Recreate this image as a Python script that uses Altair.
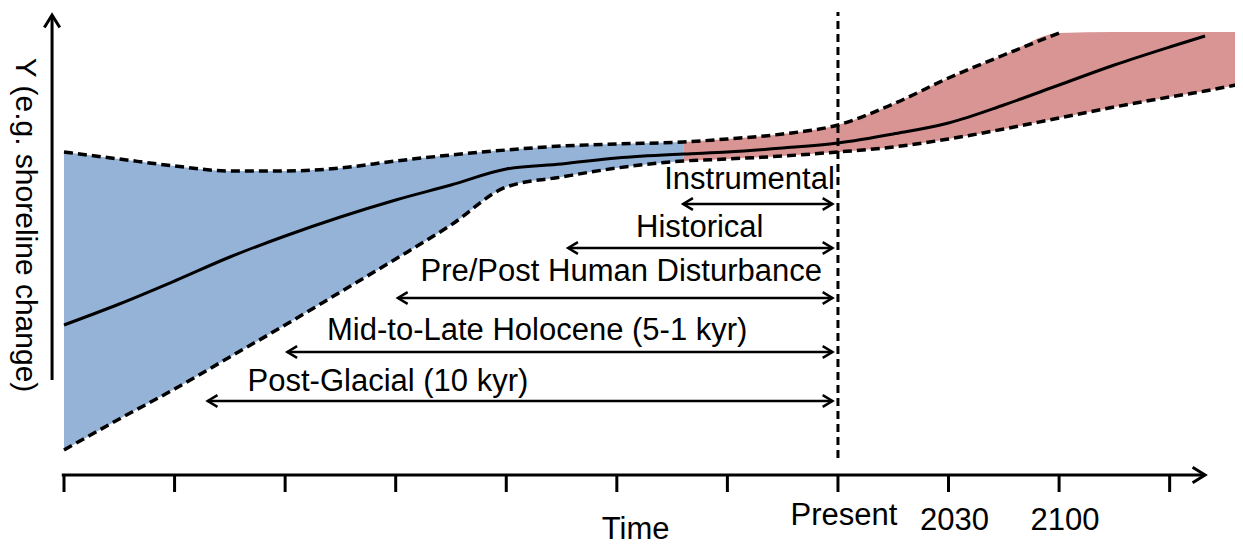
import altair as alt
import pandas as pd

# ---------------- data ----------------
# time axis in tick units (0..10), 7 = Present
blue_x = [0, 0.5, 1, 1.5, 2, 2.5, 3, 3.5, 4, 4.5, 5, 5.6]
blue_lower = [2.5, 5.6, 8.6, 11.8, 15.0, 18.3, 21.6, 25.0, 28.8, 29.8, 30.7, 31.4]
blue_upper = [32.3, 31.6, 30.9, 30.4, 30.4, 30.7, 31.4, 32.0, 32.5, 32.9, 33.1, 33.3]
blue_mid = [15.0, 17.1, 19.4, 21.8, 23.9, 25.8, 27.5, 29.0, 30.6, 31.1, 31.7, 32.1]

red_x = [5.6, 6.0, 6.5, 7.0, 7.5, 8.0, 8.5, 9.0, 9.5, 10.0, 10.32, 10.6]
red_lower = [31.4, 31.6, 31.9, 32.3, 32.8, 33.6, 34.6, 35.7, 36.8, 37.8, 38.4, 39.0]
red_upper = [33.3, 33.6, 34.1, 35.0, 37.1, 39.7, 42.0, 44.2, 44.3, 44.3, 44.3, 44.3]
red_mid = [32.1, 32.3, 32.7, 33.2, 34.1, 35.2, 37.0, 39.0, 41.0, 42.8, 43.9]
red_upper_dash_end = 9.0

present_x = 7.0
tick_values = [0, 1, 2, 3, 4, 5, 6, 7, 8, 9, 10]
axis_end = 10.32
tick_label_x = [7, 8, 9]
tick_labels = ["Present", "2030", "2100"]

periods = ["Instrumental", "Historical", "Pre/Post Human Disturbance",
           "Mid-to-Late Holocene (5-1 kyr)", "Post-Glacial (10 kyr)"]
period_start = [5.6, 4.56, 3.02, 2.02, 1.3]
period_end = [6.95, 6.95, 6.95, 6.95, 6.95]
period_y = [27.1, 22.7, 17.7, 12.3, 7.4]
period_label_x = [6.2, 5.75, 5.04, 4.28, 2.93]
period_label_y = [29.5, 24.7, 20.3, 14.4, 9.3]

y_axis_x = -0.108
y_axis_bottom = 9.5
y_axis_top = 46.0

# ---------------- scales ----------------
XS = alt.Scale(domain=[-0.5065, 10.591], nice=False, zero=False)
YS = alt.Scale(domain=[-7.3, 46.7], nice=False, zero=False)
FONT = "Liberation Sans"
FS = 31


def X(f="x"):
    return alt.X(f"{f}:Q", scale=XS, axis=None)


def Y(f="y"):
    return alt.Y(f"{f}:Q", scale=YS, axis=None)


blue_df = pd.DataFrame({"x": blue_x, "lo": blue_lower, "hi": blue_upper})
red_df = pd.DataFrame({"x": red_x, "lo": red_lower, "hi": red_upper})

blue_area = alt.Chart(blue_df).mark_area(
    color="#94B3D7", opacity=1, interpolate="monotone").encode(
    x=X(), y=Y("lo"), y2="hi:Q")
red_area = alt.Chart(red_df).mark_area(
    color="#D99594", opacity=1, interpolate="monotone").encode(
    x=X(), y=Y("lo"), y2="hi:Q")

# dashed envelopes
up_x = blue_x + [v for v in red_x[1:] if v <= red_upper_dash_end]
up_y = blue_upper + [u for v, u in zip(red_x[1:], red_upper[1:]) if v <= red_upper_dash_end]
lo_x = blue_x + red_x[1:]
lo_y = blue_lower + red_lower[1:]
dash_df = pd.DataFrame({
    "x": up_x + lo_x,
    "y": up_y + lo_y,
    "s": ["upper"] * len(up_x) + ["lower"] * len(lo_x),
})
dash_lines = alt.Chart(dash_df).mark_line(
    color="black", strokeWidth=3.5, strokeDash=[9, 5], interpolate="monotone").encode(
    x=X(), y=Y(), detail="s:N", order="x:Q")

mid_df = pd.DataFrame({"x": blue_x + red_x[1:len(red_mid)],
                       "y": blue_mid + red_mid[1:]})
mid_line = alt.Chart(mid_df).mark_line(
    color="black", strokeWidth=3, interpolate="monotone").encode(
    x=X(), y=Y(), order="x:Q")

present_df = pd.DataFrame({"x": [present_x], "y": [1.7], "y2": [46.3]})
present_line = alt.Chart(present_df).mark_rule(
    color="black", strokeWidth=3, strokeDash=[8, 5]).encode(
    x=X(), y=Y(), y2="y2:Q")

# axes drawn as rules
yaxis_df = pd.DataFrame({"x": [y_axis_x], "y": [y_axis_bottom], "y2": [y_axis_top]})
yaxis = alt.Chart(yaxis_df).mark_rule(color="black", strokeWidth=3).encode(
    x=X(), y=Y(), y2="y2:Q")

xaxis_df = pd.DataFrame({"x": [-0.02], "x2": [axis_end], "y": [0.0]})
xaxis = alt.Chart(xaxis_df).mark_rule(color="black", strokeWidth=3).encode(
    x=X(), x2="x2:Q", y=Y())

ticks_df = pd.DataFrame({"x": tick_values, "y": [0.0] * len(tick_values),
                         "y2": [-1.7] * len(tick_values)})
ticks = alt.Chart(ticks_df).mark_rule(color="black", strokeWidth=3).encode(
    x=X(), y=Y(), y2="y2:Q")

# period arrows
per_df = pd.DataFrame({"p": periods, "x": period_start, "x2": period_end,
                       "y": period_y, "lx": period_label_x, "ly": period_label_y})
per_rules = alt.Chart(per_df).mark_rule(color="black", strokeWidth=2.5).encode(
    x=X(), x2="x2:Q", y=Y())
per_text = alt.Chart(per_df).mark_text(
    font=FONT, fontSize=FS, color="black", align="center", baseline="middle").encode(
    x=X("lx"), y=Y("ly"), text="p:N")

# arrowheads
CHEV = "M -1 -0.6 L 0 0 L -1 0.6"
heads_df = pd.DataFrame({
    "x": period_start + period_end,
    "y": period_y + period_y,
    "a": [180] * len(period_start) + [0] * len(period_end),
})
heads = alt.Chart(heads_df).mark_point(
    shape=CHEV, filled=False, size=380, strokeWidth=2.5, color="black",
    opacity=1).encode(x=X(), y=Y(), angle=alt.Angle("a:Q", scale=None))

axis_heads_df = pd.DataFrame({"x": [axis_end, y_axis_x], "y": [0.0, y_axis_top],
                              "a": [0, 270]})
axis_heads = alt.Chart(axis_heads_df).mark_point(
    shape="M -1 -0.62 L 0 0 L -1 0.62", filled=False, size=620, strokeWidth=3,
    color="black", opacity=1).encode(x=X(), y=Y(), angle=alt.Angle("a:Q", scale=None))

# tick labels
tl_df = pd.DataFrame({"x": tick_label_x, "t": tick_labels,
                      "y": [-4.1, -4.6, -4.6]})
tick_text = alt.Chart(tl_df).mark_text(
    font=FONT, fontSize=FS, color="black", align="center", baseline="middle", dx=6).encode(
    x=X(), y=Y(), text="t:N")

titles_df = pd.DataFrame({"x": [5.17], "y": [-5.5], "t": ["Time"]})
x_title = alt.Chart(titles_df).mark_text(
    font=FONT, fontSize=FS, color="black", align="center", baseline="middle").encode(
    x=X(), y=Y(), text="t:N")

ytitle_df = pd.DataFrame({"x": [-0.35], "y": [25.0], "t": ["Y (e.g. shoreline change)"]})
y_title = alt.Chart(ytitle_df).mark_text(
    font=FONT, fontSize=30, color="black", align="center", baseline="middle", angle=90).encode(
    x=X(), y=Y(), text="t:N")

chart = alt.layer(
    blue_area, red_area, dash_lines, mid_line, present_line,
    yaxis, xaxis, ticks, per_rules, heads, axis_heads,
    per_text, tick_text, x_title, y_title,
).properties(
    width=1227, height=540, padding=0,
    autosize=alt.AutoSizeParams(type="none"),
).configure_view(stroke=None)

chart.save("out.html", embed_options={"renderer": "svg", "actions": False})
